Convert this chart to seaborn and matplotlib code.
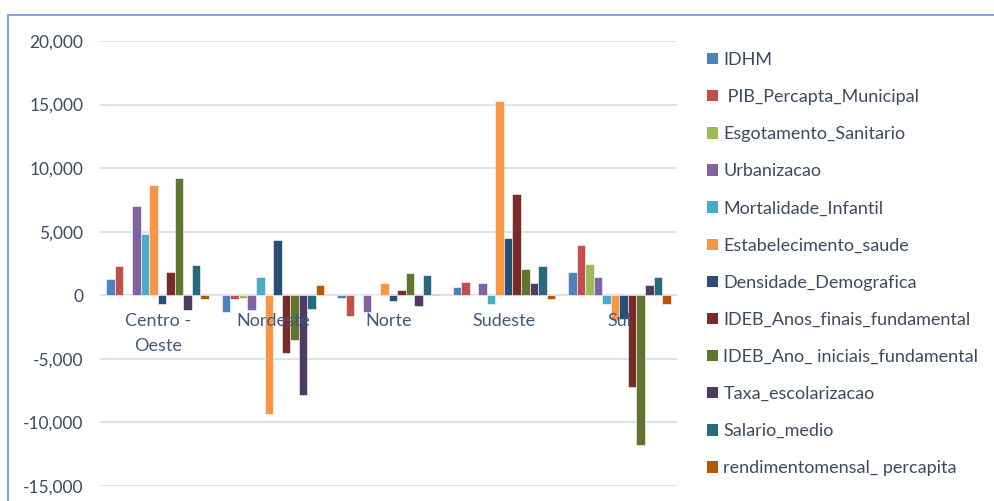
import matplotlib
matplotlib.use("Agg")
import matplotlib.pyplot as plt
from matplotlib.lines import Line2D
from matplotlib.patches import Patch
import matplotlib.transforms as mtransforms
import seaborn as sns
import pandas as pd

regioes = ["Centro -\nOeste", "Nordeste", "Norte", "Sudeste", "Sul"]
variaveis = ["IDHM", " PIB_Percapta_Municipal", "Esgotamento_Sanitario", "Urbanizacao",
             "Mortalidade_Infantil", "Estabelecimento_saude", "Densidade_Demografica",
             "IDEB_Anos_finais_fundamental", "IDEB_Ano_ iniciais_fundamental",
             "Taxa_escolarizacao", "Salario_medio", "rendimentomensal_ percapita"]

IDHM = [1250, -1350, -250, 650, 1800]
PIB = [2300, -330, -1620, 1080, 3950]
Esgotamento = [0, -230, 0, 0, 2450]
Urbanizacao = [7000, -1180, -1300, 1000, 1400]
Mortalidade = [4800, 1450, 0, -650, -650]
Estabelecimento = [8700, -9300, 1000, 15250, -1950]
Densidade = [-650, 4380, -480, 4480, -1850]
IDEB_finais = [1850, -4550, 450, 7950, -7200]
IDEB_iniciais = [9200, -3550, 1780, 2100, -11750]
Taxa = [-1180, -7850, -880, 980, 800]
Salario = [2400, -1100, 1600, 2300, 1400]
Rendimento = [-330, 770, 130, -330, -650]

series = [IDHM, PIB, Esgotamento, Urbanizacao, Mortalidade, Estabelecimento,
          Densidade, IDEB_finais, IDEB_iniciais, Taxa, Salario, Rendimento]

cores = ["#4F81BD", "#C0504D", "#9BBB59", "#8064A2", "#4BACC6", "#F79646",
         "#2C4D75", "#772C2A", "#5F7530", "#4D3B62", "#276A7C", "#B65708"]

rows = []
for var, vals in zip(variaveis, series):
    for reg, v in zip(regioes, vals):
        rows.append({"Regiao": reg, "Variavel": var, "Valor": v})
df = pd.DataFrame(rows)

sns.set_theme(style="white")
plt.rcParams["font.family"] = ["Lato", "DejaVu Sans"]

fig = plt.figure(figsize=(9.94, 5.01), dpi=100)
ax = fig.add_axes([100 / 994, 1 - 486 / 501, 577 / 994, 445 / 501])

sns.barplot(data=df, x="Regiao", y="Valor", hue="Variavel", order=regioes,
            hue_order=variaveis, palette=cores, saturation=1, width=0.89, dodge=True,
            errorbar=None, ax=ax, edgecolor="white", linewidth=0.4, legend=False)

ax.set_ylim(-15000, 20000)
yt = list(range(-15000, 20001, 5000))
ax.set_yticks(yt)
ax.set_yticklabels([f"{v:,}" if v >= 0 else f"-{abs(v):,}" for v in yt],
                   fontsize=12.5, color="#3C4A63")
ax.tick_params(axis="y", length=0, pad=12)
ax.yaxis.grid(True, color="#DAE3F0", linewidth=1.5)
ax.set_axisbelow(True)
for s in ["top", "right", "left", "bottom"]:
    ax.spines[s].set_visible(False)
ax.tick_params(axis="x", length=0)
ax.set_xticklabels([])
ax.set_xlabel("")
ax.set_ylabel("")
ax.set_facecolor("none")

# category labels drawn over the bars, just below the zero line
off = mtransforms.offset_copy(ax.transData, fig=fig, x=0, y=-18, units="dots")
for i, reg in enumerate(regioes):
    ax.text(i, 0, reg, transform=off, ha="center", va="top", fontsize=13,
            color="#41597F", linespacing=1.65, zorder=10)

handles = [Patch(facecolor=c, edgecolor="none") for c in cores]
leg = fig.legend(handles, variaveis, loc="upper left", bbox_to_anchor=(707 / 994, 1 - 52 / 501),
                 frameon=False, fontsize=13, handlelength=0.6, handleheight=0.6,
                 handletextpad=0.3, labelspacing=1.17, borderaxespad=0, borderpad=0)
for t in leg.get_texts():
    t.set_color("#3C4A63")

fig.add_artist(Line2D([8 / 994, 8 / 994], [0, 1 - 15 / 501], color="#7EA6DA", linewidth=1.5))
fig.add_artist(Line2D([8 / 994, 1.0], [1 - 15 / 501, 1 - 15 / 501], color="#7EA6DA", linewidth=1.5))

fig.savefig("out.png", dpi=100)
